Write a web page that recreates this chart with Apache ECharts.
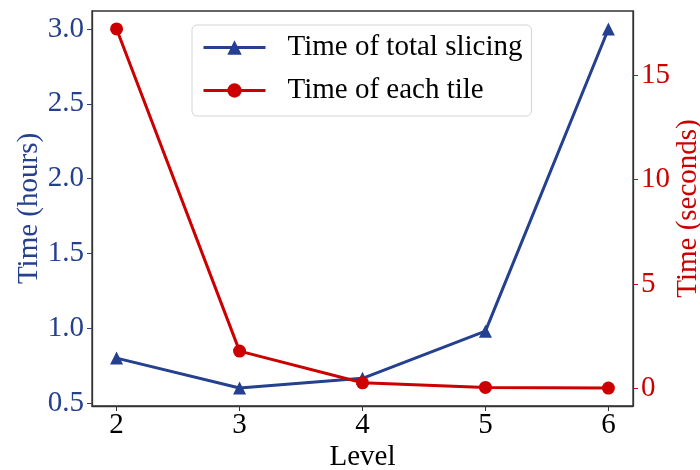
<!DOCTYPE html>
<html>
<head>
<meta charset="utf-8">
<script src="https://cdn.jsdelivr.net/npm/echarts@6/dist/echarts.min.js"></script>
<style>html,body{margin:0;padding:0;background:#fff;}#c{width:700px;height:470px;}</style>
</head>
<body>
<div id="c"></div>
<script>
const levels = [2, 3, 4, 5, 6];
const totalSlicingHours = [0.80, 0.60, 0.665, 0.98, 3.00];
const eachTileSeconds = [17.22, 1.79, 0.27, 0.05, 0.02];
const leftTicks = [0.5, 1.0, 1.5, 2.0, 2.5, 3.0];
const rightTicks = [0, 5, 10, 15];
const legendNames = ['Time of total slicing', 'Time of each tile'];

const BLUE = '#24408e';
const RED = '#cc0000';
const FONT = '"Liberation Serif", "DejaVu Serif", serif';
const FS = 29;

function pad(arr, frac) {
  const mn = Math.min(...arr), mx = Math.max(...arr), r = mx - mn;
  return [mn - frac * r, mx + frac * r];
}
const xr = pad(levels, 0.05);
const lr = pad(totalSlicingHours, 0.05);
const rr = pad(eachTileSeconds, 0.05);

const chart = echarts.init(document.getElementById('c'), null, {renderer: 'canvas'});
chart.setOption({
  animation: false,
  backgroundColor: '#fff',
  grid: {left: 92, right: 67, top: 11, bottom: 64, show: true, borderColor: '#333', borderWidth: 1.3, outerBoundsMode: 'none'},
  legend: {
    orient: 'vertical', left: 192, top: 25,
    data: legendNames,
    itemWidth: 62, itemHeight: 18, itemGap: 14,
    padding: [8, 9, 11, 10],
    lineStyle: {width: 3},
    backgroundColor: '#fff', borderColor: '#d4d4d4', borderWidth: 1, borderRadius: 5,
    textStyle: {fontFamily: FONT, fontSize: FS, color: '#000', padding: [0, 0, 0, 17]}
  },
  xAxis: {
    type: 'value', min: xr[0], max: xr[1],
    name: 'Level', nameLocation: 'middle', nameGap: 37, nameMoveOverlap: false,
    nameTextStyle: {fontFamily: FONT, fontSize: FS, color: '#000'},
    splitLine: {show: false},
    axisLine: {show: true, onZero: false, lineStyle: {color: '#333', width: 1.3}},
    axisTick: {show: true, inside: false, length: 5, customValues: levels, lineStyle: {color: '#333'}},
    axisLabel: {customValues: levels, margin: 5, fontFamily: FONT, fontSize: FS, color: '#000'}
  },
  yAxis: [{
    type: 'value', position: 'left', min: lr[0], max: lr[1],
    name: 'Time (hours)', nameLocation: 'middle', nameGap: 48, nameRotate: 90, nameMoveOverlap: false,
    nameTextStyle: {fontFamily: FONT, fontSize: FS, color: BLUE},
    splitLine: {show: false},
    axisLine: {show: true, onZero: false, lineStyle: {color: '#333', width: 1.3}},
    axisTick: {show: true, inside: false, length: 5, customValues: leftTicks, lineStyle: {color: BLUE}},
    axisLabel: {customValues: leftTicks, margin: 8, fontFamily: FONT, fontSize: FS, color: BLUE,
      formatter: v => v.toFixed(1)}
  }, {
    type: 'value', position: 'right', min: rr[0], max: rr[1],
    name: 'Time (seconds)', nameLocation: 'middle', nameGap: 41, nameRotate: 90, nameMoveOverlap: false,
    nameTextStyle: {fontFamily: FONT, fontSize: FS, color: RED},
    splitLine: {show: false},
    axisLine: {show: true, onZero: false, lineStyle: {color: '#333', width: 1.3}},
    axisTick: {show: true, inside: false, length: 5, customValues: rightTicks, lineStyle: {color: RED}},
    axisLabel: {customValues: rightTicks, margin: 8, fontFamily: FONT, fontSize: FS, color: RED,
      formatter: v => String(v)}
  }],
  series: [{
    name: legendNames[0], type: 'line', yAxisIndex: 0,
    data: levels.map((l, i) => [l, totalSlicingHours[i]]),
    symbol: 'triangle', symbolSize: 13, showAllSymbol: true,
    lineStyle: {color: BLUE, width: 3}, itemStyle: {color: BLUE}, z: 2
  }, {
    name: legendNames[1], type: 'line', yAxisIndex: 1,
    data: levels.map((l, i) => [l, eachTileSeconds[i]]),
    symbol: 'circle', symbolSize: 13, showAllSymbol: true,
    lineStyle: {color: RED, width: 3}, itemStyle: {color: RED}, z: 3
  }]
});
</script>
</body>
</html>
